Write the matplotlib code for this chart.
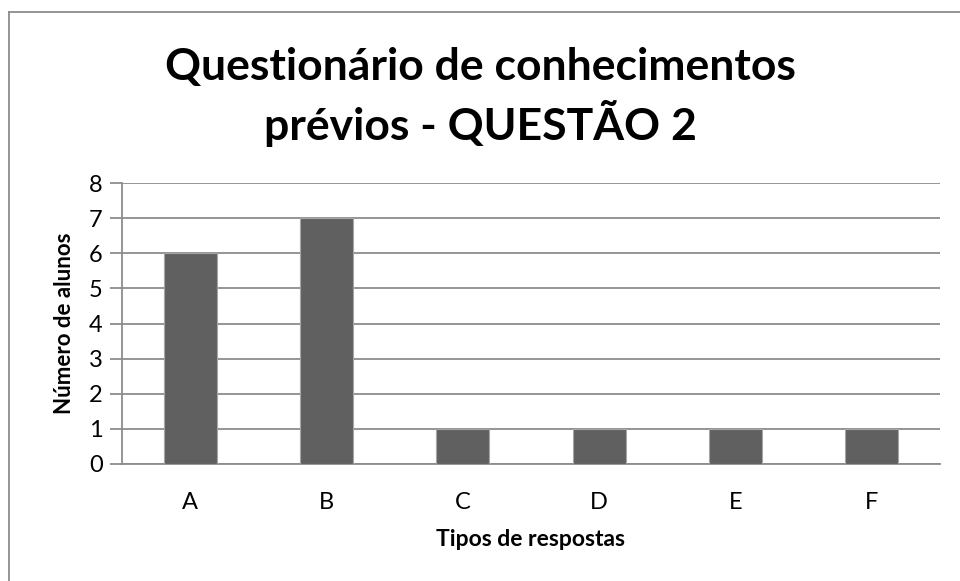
import matplotlib
matplotlib.use("Agg")
import matplotlib.pyplot as plt
from matplotlib.lines import Line2D

categories = ["A", "B", "C", "D", "E", "F"]
counts = [6, 7, 1, 1, 1, 1]
y_ticks = [0, 1, 2, 3, 4, 5, 6, 7, 8]

title = "Questionário de conhecimentos\nprévios - QUESTÃO 2"
x_label = "Tipos de respostas"
y_label = "Número de alunos"

plt.rcParams["font.family"] = ["Lato", "DejaVu Sans"]

W, H = 960, 581
fig = plt.figure(figsize=(W / 100, H / 100), dpi=100)
# plot area in pixels: left 122, right 940, top 183, bottom 464
ax = fig.add_axes([122 / W, 1 - 464 / H, (940 - 122) / W, (464 - 183) / H])

grid_c = "#8c8c8c"
ax.bar(range(len(categories)), counts, width=0.39, color="#606060",
       edgecolor="#a6a6a6", linewidth=0.8, zorder=3)
ax.set_xlim(-0.5, len(categories) - 0.5)
ax.set_ylim(0, 8)
ax.set_yticks(y_ticks)
ax.set_xticks(range(len(categories)))
ax.set_xticklabels(categories)
ax.yaxis.grid(True, color=grid_c, linewidth=1.3, zorder=0)
for s in ["top", "right"]:
    ax.spines[s].set_visible(False)
ax.spines["left"].set_color(grid_c)
ax.spines["bottom"].set_color(grid_c)
ax.spines["left"].set_linewidth(1.3)
ax.spines["bottom"].set_linewidth(1.3)
ax.tick_params(axis="y", length=9, width=1.3, color=grid_c, labelsize=17, pad=5)
ax.tick_params(axis="x", length=0, labelsize=17, pad=20)

ax.set_xlabel(x_label, fontsize=16.5, fontweight="bold", labelpad=12)
ax.set_ylabel(y_label, fontsize=16, fontweight="bold", labelpad=10)

fig.text(480 / W, 1 - 97 / H, title, ha="center", va="center",
         fontsize=32, fontweight="bold", linespacing=1.32)

# outer chart border (only top/left visible in crop)
fig.add_artist(Line2D([9 / W, 9 / W], [0, 1 - 12 / H], transform=fig.transFigure,
                      color="#8c8c8c", lw=1.3))
fig.add_artist(Line2D([9 / W, 1], [1 - 12 / H, 1 - 12 / H], transform=fig.transFigure,
                      color="#8c8c8c", lw=1.3))

fig.savefig("out.png", dpi=100)
